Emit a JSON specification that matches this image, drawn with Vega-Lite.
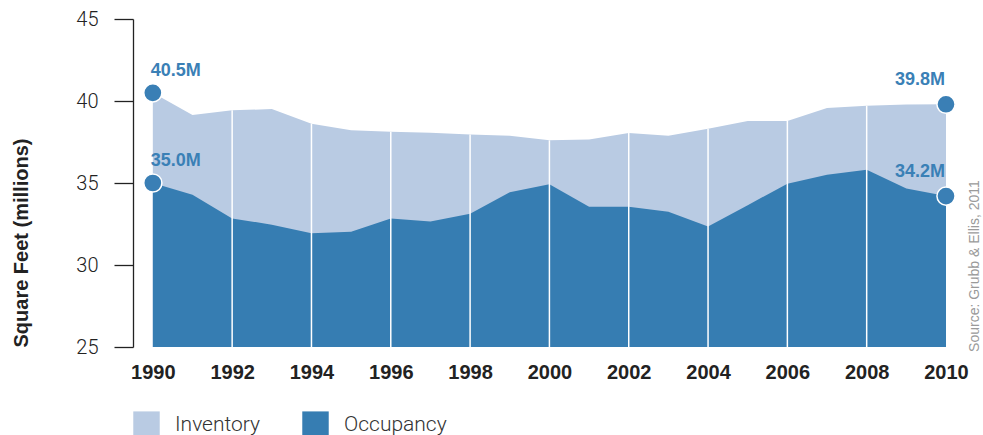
{
  "$schema": "https://vega.github.io/schema/vega-lite/v6.json",
  "width": 813,
  "height": 328,
  "autosize": {"type": "none"},
  "padding": {"left": 133, "top": 19, "right": 37, "bottom": 88},
  "background": "white",
  "config": {"view": {"stroke": null}, "font": "Liberation Sans"},
  "data": {
    "values": [
      {"year": 1990, "series": "Inventory", "value": 40.5},
      {"year": 1991, "series": "Inventory", "value": 39.15},
      {"year": 1992, "series": "Inventory", "value": 39.43},
      {"year": 1993, "series": "Inventory", "value": 39.51},
      {"year": 1994, "series": "Inventory", "value": 38.62},
      {"year": 1995, "series": "Inventory", "value": 38.21},
      {"year": 1996, "series": "Inventory", "value": 38.13},
      {"year": 1997, "series": "Inventory", "value": 38.07},
      {"year": 1998, "series": "Inventory", "value": 37.95},
      {"year": 1999, "series": "Inventory", "value": 37.88},
      {"year": 2000, "series": "Inventory", "value": 37.6},
      {"year": 2001, "series": "Inventory", "value": 37.66},
      {"year": 2002, "series": "Inventory", "value": 38.05},
      {"year": 2003, "series": "Inventory", "value": 37.88},
      {"year": 2004, "series": "Inventory", "value": 38.31},
      {"year": 2005, "series": "Inventory", "value": 38.78},
      {"year": 2006, "series": "Inventory", "value": 38.78},
      {"year": 2007, "series": "Inventory", "value": 39.57},
      {"year": 2008, "series": "Inventory", "value": 39.71},
      {"year": 2009, "series": "Inventory", "value": 39.79},
      {"year": 2010, "series": "Inventory", "value": 39.8},
      {"year": 1990, "series": "Occupancy", "value": 35.0},
      {"year": 1991, "series": "Occupancy", "value": 34.29},
      {"year": 1992, "series": "Occupancy", "value": 32.84},
      {"year": 1993, "series": "Occupancy", "value": 32.46},
      {"year": 1994, "series": "Occupancy", "value": 31.93},
      {"year": 1995, "series": "Occupancy", "value": 32.03},
      {"year": 1996, "series": "Occupancy", "value": 32.84},
      {"year": 1997, "series": "Occupancy", "value": 32.66},
      {"year": 1998, "series": "Occupancy", "value": 33.13},
      {"year": 1999, "series": "Occupancy", "value": 34.43},
      {"year": 2000, "series": "Occupancy", "value": 34.92},
      {"year": 2001, "series": "Occupancy", "value": 33.55},
      {"year": 2002, "series": "Occupancy", "value": 33.55},
      {"year": 2003, "series": "Occupancy", "value": 33.25},
      {"year": 2004, "series": "Occupancy", "value": 32.35},
      {"year": 2005, "series": "Occupancy", "value": 33.65},
      {"year": 2006, "series": "Occupancy", "value": 34.96},
      {"year": 2007, "series": "Occupancy", "value": 35.5},
      {"year": 2008, "series": "Occupancy", "value": 35.81},
      {"year": 2009, "series": "Occupancy", "value": 34.67},
      {"year": 2010, "series": "Occupancy", "value": 34.2}
    ]
  },
  "encoding": {
    "x": {
      "field": "year",
      "type": "quantitative",
      "scale": {"domain": [1989.5, 2010], "nice": false, "zero": false},
      "axis": {
        "values": [1990, 1992, 1994, 1996, 1998, 2000, 2002, 2004, 2006, 2008, 2010],
        "format": "d",
        "title": null,
        "grid": false,
        "ticks": false,
        "tickSize": 0,
        "domain": false,
        "labelFlush": false,
        "labelOverlap": false,
        "labelBound": false,
        "labelFontSize": 20,
        "labelFontWeight": "bold",
        "labelColor": "#222222",
        "labelPadding": 15
      }
    }
  },
  "layer": [
    {
      "transform": [{"filter": "datum.series == 'Inventory'"}],
      "mark": {"type": "area", "opacity": 1},
      "encoding": {
        "y": {
          "field": "value",
          "type": "quantitative",
          "stack": null,
          "scale": {"domain": [25, 45], "zero": false, "nice": false},
          "axis": {
            "values": [25, 30, 35, 40, 45],
            "title": "Square Feet (millions)",
            "titleFontSize": 20,
            "titleFontWeight": "bold",
            "titleColor": "#222222",
            "titleAnchor": "start",
            "titlePadding": 44,
            "grid": false,
            "tickSize": 19,
            "tickColor": "#222222",
            "tickWidth": 1.3,
            "domainColor": "#222222",
            "domainWidth": 1.3,
            "labelFontSize": 20,
            "labelFont": "Roboto",
            "labelFontWeight": 300,
            "labelColor": "#222222",
            "labelPadding": 16
          }
        },
        "y2": {"datum": 25},
        "color": {
          "field": "series",
          "type": "nominal",
          "scale": {"domain": ["Inventory", "Occupancy"], "range": ["#b9cbe3", "#367db2"]},
          "legend": {
            "orient": "none",
            "legendX": 0,
            "legendY": 392,
            "direction": "horizontal",
            "title": null,
            "symbolType": "square",
            "symbolSize": 700,
            "symbolStrokeWidth": 0,
            "symbolOpacity": 1,
            "labelFont": "Roboto",
            "labelFontWeight": 300,
            "labelFontSize": 21,
            "labelColor": "#333333",
            "labelOffset": 15,
            "columnPadding": 41,
            "padding": 0
          }
        }
      }
    },
    {
      "transform": [{"filter": "datum.series == 'Occupancy'"}],
      "mark": {"type": "area", "opacity": 1},
      "encoding": {
        "y": {"field": "value", "type": "quantitative", "stack": null},
        "y2": {"datum": 25},
        "color": {"field": "series", "type": "nominal"}
      }
    },
    {
      "transform": [{"filter": "datum.series == 'Inventory' && datum.year % 2 == 0 && datum.year > 1990 && datum.year < 2010"}],
      "mark": {"type": "rule", "color": "white", "strokeWidth": 1.5},
      "encoding": {
        "y": {"field": "value", "type": "quantitative"},
        "y2": {"datum": 25}
      }
    },
    {
      "transform": [{"filter": "datum.year == 1990 || datum.year == 2010"}],
      "mark": {"type": "circle", "size": 330, "color": "#3a7fb5", "opacity": 1, "stroke": "white", "strokeWidth": 1.5},
      "encoding": {
        "y": {"field": "value", "type": "quantitative"}
      }
    },
    {
      "transform": [
        {"filter": "datum.year == 1990"},
        {"calculate": "format(datum.value, '.1f') + 'M'", "as": "label"}
      ],
      "mark": {"type": "text", "align": "left", "baseline": "alphabetic", "dx": -2, "dy": -17, "fontSize": 18, "fontWeight": "bold", "color": "#3a80b6"},
      "encoding": {
        "y": {"field": "value", "type": "quantitative"},
        "text": {"field": "label", "type": "nominal"}
      }
    },
    {
      "transform": [
        {"filter": "datum.year == 2010"},
        {"calculate": "format(datum.value, '.1f') + 'M'", "as": "label"}
      ],
      "mark": {"type": "text", "align": "right", "baseline": "alphabetic", "dx": -1, "dy": -19, "fontSize": 18, "fontWeight": "bold", "color": "#3a80b6"},
      "encoding": {
        "y": {"field": "value", "type": "quantitative"},
        "text": {"field": "label", "type": "nominal"}
      }
    },
    {
      "data": {"values": [{"note": "Source: Grubb & Ellis, 2011", "nx": 2010.55, "ny": 24.7}]},
      "mark": {"type": "text", "angle": 270, "align": "left", "baseline": "top", "fontSize": 14, "color": "#9a9a9a"},
      "encoding": {
        "x": {"field": "nx", "type": "quantitative"},
        "y": {"field": "ny", "type": "quantitative"},
        "text": {"field": "note", "type": "nominal"}
      }
    }
  ]
}
